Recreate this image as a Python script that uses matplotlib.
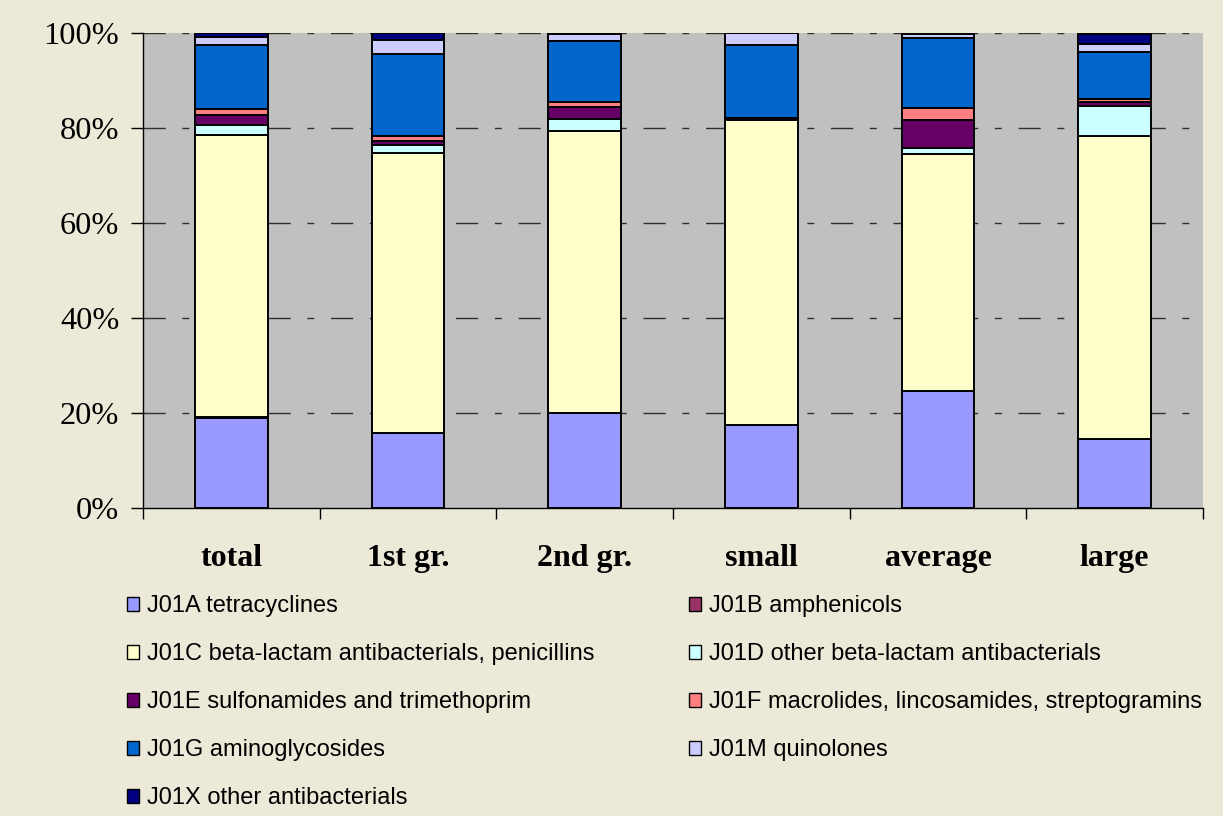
import numpy as np
import matplotlib.pyplot as plt
from matplotlib.ticker import PercentFormatter

# Share of antibacterial groups by farm category (percent of total)
categories = ["total", "1st gr.", "2nd gr.", "small", "average", "large"]

j01a = [19.0, 15.7, 19.9, 17.5, 24.6, 14.5]
j01b = [0.1, 0.0, 0.0, 0.0, 0.0, 0.0]
j01c = [59.4, 59.0, 59.4, 64.2, 50.0, 63.9]
j01d = [2.1, 1.8, 2.5, 0.2, 1.2, 6.3]
j01e = [2.1, 0.8, 2.6, 0.1, 5.9, 0.8]
j01f = [1.2, 1.1, 1.1, 0.1, 2.5, 0.6]
j01g = [13.6, 17.2, 12.8, 15.3, 14.7, 9.8]
j01m = [1.7, 3.0, 1.4, 2.6, 0.8, 1.8]
j01x = [0.8, 1.4, 0.3, 0.0, 0.3, 2.1]

series = [
    ("J01A tetracyclines", j01a, "#9999FF"),
    ("J01B amphenicols", j01b, "#993366"),
    ("J01C beta-lactam antibacterials, penicillins", j01c, "#FFFFCC"),
    ("J01D other beta-lactam antibacterials", j01d, "#CCFFFF"),
    ("J01E sulfonamides and trimethoprim", j01e, "#660066"),
    ("J01F macrolides, lincosamides, streptogramins", j01f, "#FF8080"),
    ("J01G aminoglycosides", j01g, "#0066CC"),
    ("J01M quinolones", j01m, "#CCCCFF"),
    ("J01X other antibacterials", j01x, "#000080"),
]

bg = "#ECE9D8"
fig = plt.figure(figsize=(12.23, 8.16), dpi=100, facecolor=bg)
ax = fig.add_axes([0.1169, 0.3775, 0.8667, 0.5821])
ax.set_facecolor("#C0C0C0")

x = np.arange(len(categories))
bottom = np.zeros(len(categories))
handles = []
for label, vals, color in series:
    vals = np.array(vals)
    b = ax.bar(x, vals, 0.41, bottom=bottom, color=color, edgecolor="black",
               linewidth=1.4, label=label, zorder=3)
    handles.append(b)
    bottom += vals

ax.set_xlim(-0.5, len(categories) - 0.5)
ax.set_ylim(0, 100)

# dash-dot gridlines like the spreadsheet chart
ax.set_yticks(np.arange(0, 101, 20))
ax.yaxis.set_major_formatter(PercentFormatter(decimals=0))
for yv in np.arange(20, 101, 20):
    ax.axhline(yv, color="#303030", linewidth=1.0, linestyle=(0, (16, 12, 5, 12)), zorder=1)

for side in ["top", "right"]:
    ax.spines[side].set_visible(False)
ax.spines["left"].set_linewidth(1.0)
ax.spines["bottom"].set_linewidth(1.0)

ax.tick_params(axis="y", length=9, width=1, pad=8, labelsize=23.3)
for t in ax.get_yticklabels():
    t.set_fontfamily("Liberation Serif")

ax.set_xticks(x)
ax.set_xticklabels(categories, fontfamily="Liberation Serif", fontweight="bold", fontsize=23)
ax.tick_params(axis="x", which="major", length=0, pad=26)
ax.set_xticks(np.arange(-0.5, len(categories), 1), minor=True)
ax.tick_params(axis="x", which="minor", length=8, width=1)

order = [0, 2, 4, 6, 8, 1, 3, 5, 7]
leg = fig.legend([handles[i] for i in order], [series[i][0] for i in order],
                 ncol=2, loc="upper left", bbox_to_anchor=(0.0867, 0.2966),
                 frameon=False, prop={"family": "Liberation Sans", "size": 17},
                 handlelength=0.51, handleheight=0.51, handletextpad=0.34,
                 labelspacing=1.1, columnspacing=4.0)
for h in leg.legend_handles:
    h.set_linewidth(1.0)

fig.savefig("out.png", dpi=100, facecolor=bg)
